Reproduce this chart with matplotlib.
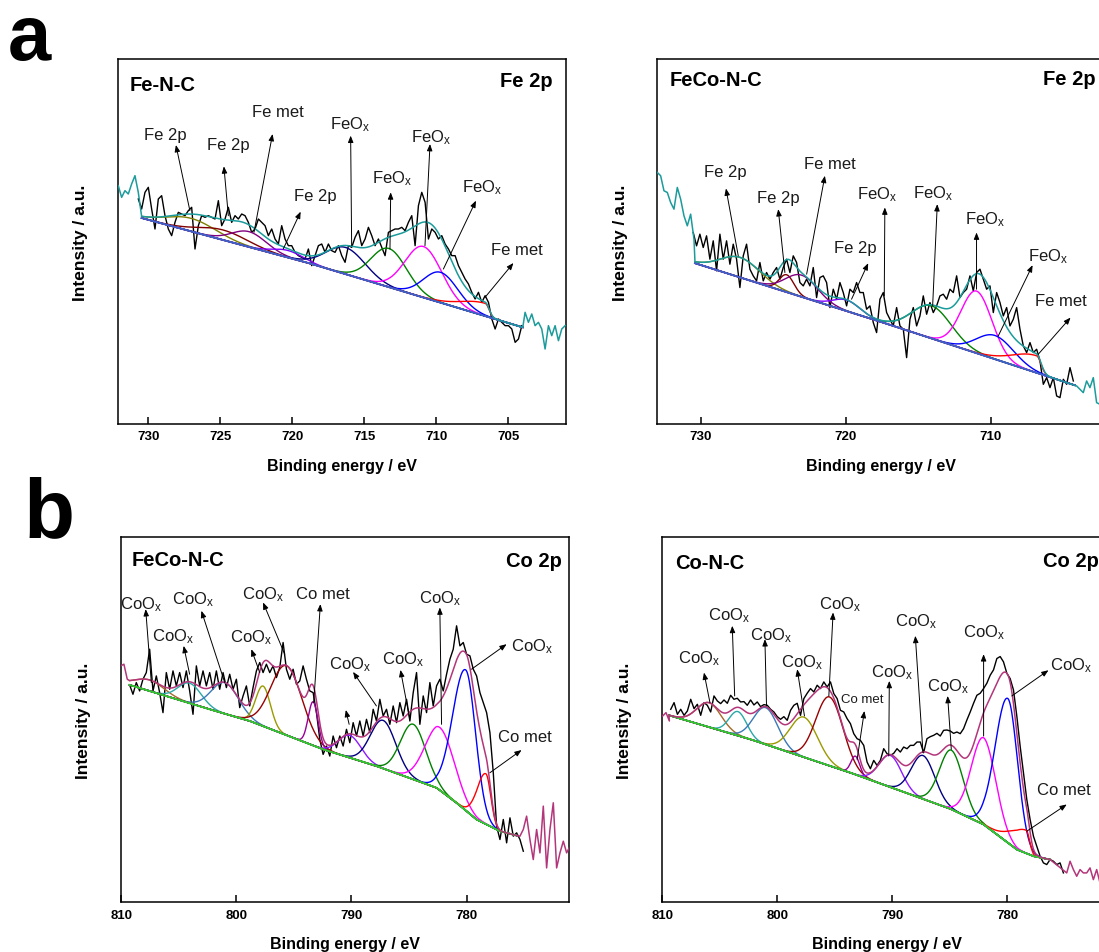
import numpy as np
import matplotlib.pyplot as plt

plt.rcParams['font.family'] = ['Liberation Sans', 'DejaVu Sans']
plt.rcParams['mathtext.fontset'] = 'custom'
plt.rcParams['mathtext.rm'] = 'Liberation Sans'
plt.rcParams['mathtext.it'] = 'Liberation Sans:italic'
plt.rcParams['mathtext.bf'] = 'Liberation Sans:bold'

# ---------------- (a) Fe-N-C, Fe 2p ----------------
fe1_step = 0.2315
fe1_raw_start = 730.69
fe1_raw = [675, 645, 695, 710, 645, 585, 675, 685, 625, 585,
           565, 605, 635, 630, 625, 640, 650, 525, 595, 625,
           620, 625, 620, 615, 670, 595, 615, 650, 605, 625,
           615, 630, 625, 605, 575, 585, 615, 605, 595, 565,
           585, 555, 540, 595, 555, 535, 535, 515, 505, 500,
           495, 525, 475, 505, 535, 540, 515, 540, 520, 515,
           535, 505, 485, 535, 530, 560, 580, 535, 555, 590,
           565, 535, 555, 530, 505, 575, 580, 585, 585, 590,
           580, 605, 625, 535, 655, 695, 665, 555, 585, 575,
           555, 565, 540, 525, 505, 505, 475, 455, 435, 420,
           395, 375, 395, 365, 385, 365, 315, 285, 315, 305,
           295, 295, 285, 245, 255, 295]
fe1_left_start = 732.08
fe1_left = [715, 680, 700, 690, 720, 745, 695]
fe1_right_start = 703.84
fe1_right = [335, 305, 330, 295, 305, 285, 225, 295, 265, 295, 250, 285, 295]
fe1_bg_e = [730.46, 718.8, 704.0]
fe1_bg_i = [618, 482, 290]
fe1_center = [727.0, 724.8, 723.0, 720.3, 716.3, 713.3, 710.9, 709.7, 706.6]
fe1_height = [39, 30, 46, 21, 80, 116, 153, 91, 38]
fe1_hw_hi = [2.0, 2.0, 1.4, 1.25, 1.6, 1.45, 1.5, 1.4, 1.9]
fe1_hw_lo = [2.0, 2.0, 1.4, 1.25, 1.6, 1.45, 1.5, 1.4, 0.3]

# ---------------- (a) FeCo-N-C, Fe 2p ----------------
fe2_step = 0.2302
fe2_raw_start = 730.53
fe2_raw = [574, 534, 569, 529, 564, 494, 549, 459, 569, 494,
           549, 479, 539, 494, 409, 504, 539, 464, 444, 429,
           484, 429, 454, 434, 454, 469, 434, 469, 494, 454,
           504, 484, 424, 414, 434, 414, 469, 379, 439, 444,
           424, 349, 404, 374, 424, 394, 354, 404, 394, 424,
           394, 394, 344, 354, 304, 274, 374, 394, 334, 314,
           294, 349, 294, 284, 199, 314, 349, 294, 324, 384,
           329, 364, 334, 354, 384, 389, 374, 404, 394, 444,
           379, 394, 404, 444, 399, 454, 464, 434, 404, 414,
           334, 394, 364, 324, 349, 294, 314, 349, 284, 234,
           214, 244, 214, 224, 189, 119, 139, 109, 139, 84,
           79, 134, 119, 169, 129]
fe2_left_start = 733.01
fe2_left = [754, 744, 699, 694, 664, 644, 709, 674, 624, 594, 629, 554]
fe2_right_start = 704.06
fe2_right = [114, 104, 94, 129, 109, 139, 64, 59, 64, 74]
fe2_bg_e = [730.41, 717.64, 704.18]
fe2_bg_i = [482, 307, 116]
fe2_center = [727.3, 724.08, 723.05, 719.94, 714.07, 710.97, 709.7, 706.82]
fe2_height = [60, 52, 65, 33, 98, 186, 71, 51]
fe2_hw_hi = [1.6, 0.6, 1.3, 1.1, 1.6, 1.25, 1.5, 1.9]
fe2_hw_lo = [1.6, 0.6, 1.3, 1.1, 1.6, 1.25, 1.5, 0.35]

# ---------------- (b) FeCo-N-C, Co 2p ----------------
co1_step = 0.2899
co1_raw_start = 809.275
co1_raw = [651, 623, 658, 633, 668, 688, 758, 633, 678, 628,
           568, 688, 638, 693, 648, 688, 643, 693, 633, 563,
           708, 648, 693, 648, 688, 638, 693, 638, 688, 643,
           683, 638, 668, 583, 618, 648, 588, 643, 693, 718,
           688, 713, 688, 708, 673, 703, 778, 698, 668, 698,
           653, 663, 708, 668, 633, 628, 568, 488, 443, 468,
           438, 498, 463, 498, 468, 518, 478, 538, 498, 543,
           498, 548, 508, 578, 543, 608, 558, 578, 533, 588,
           538, 598, 558, 608, 543, 628, 688, 533, 618, 568,
           658, 588, 648, 668, 633, 683, 728, 758, 828, 768,
           778, 743, 738, 698, 678, 628, 598, 568, 508, 388,
           228, 188, 248, 178, 253, 198, 208, 188, 153]
co1_left_start = 810.06
co1_left = [708, 713, 668]
co1_right_start = 775.36
co1_right = [198, 218, 258, 188, 128, 218, 148, 288, 103, 218, 298, 103, 148, 183, 148, 168]
co1_bg_e = [809.28, 802.32, 798.84, 792.46, 787.83, 782.61, 780.87, 779.13, 777.10, 775.65]
co1_bg_i = [651, 578, 543, 458, 408, 343, 298, 248, 213, 200]
co1_center = [807.54, 804.06, 801.0, 797.68, 795.65, 793.33, 790.14, 787.25, 784.64, 782.32, 780.06, 778.32]
co1_height = [33, 60, 93, 120, 208, 131, 67, 144, 165, 188, 421, 151]
co1_hw_hi = [1.5, 1.2, 1.4, 0.75, 1.6, 0.5, 1.15, 1.3, 1.3, 1.5, 1.35, 0.9]
co1_hw_lo = [1.5, 1.2, 1.4, 0.75, 1.6, 0.5, 1.15, 1.3, 1.3, 1.5, 1.0, 0.5]

# ---------------- (b) Co-N-C, Co 2p ----------------
co2_step = 0.2894
co2_raw_start = 809.26
co2_raw = [578, 598, 563, 578, 560, 573, 608, 580, 593, 560,
           598, 590, 570, 618, 603, 595, 606, 596, 620, 608,
           611, 600, 601, 590, 606, 591, 600, 586, 592, 590,
           578, 570, 556, 548, 556, 545, 575, 590, 596, 560,
           610, 626, 640, 630, 650, 640, 660, 645, 660, 625,
           610, 575, 570, 550, 535, 505, 490, 485, 470, 420,
           400, 425, 410, 425, 460, 445, 440, 446, 460, 450,
           465, 460, 470, 470, 480, 480, 448, 490, 496, 500,
           506, 498, 515, 516, 513, 506, 510, 505, 520, 546,
           570, 596, 620, 626, 640, 656, 680, 696, 730, 736,
           720, 686, 670, 636, 558, 468, 388, 308, 248, 198,
           168, 138, 118, 113, 128, 123, 113, 118, 88]
co2_left_start = 809.96
co2_left = [558, 568, 543]
co2_right_start = 774.82
co2_right = [88, 123, 98, 78, 98, 88, 88, 103, 68, 98, 58, 88, 78, 98]
co2_bg_e = [809.41, 802.32, 793.63, 784.95, 782.05, 779.16, 777.71, 776.27]
co2_bg_i = [560, 488, 388, 280, 233, 158, 138, 128]
co2_center = [805.93, 803.42, 801.01, 797.68, 795.46, 793.2, 790.16, 787.32, 784.86, 782.05, 779.94, 778.35]
co2_height = [73, 72, 110, 120, 206, 55, 95, 130, 177, 260, 432, 69]
co2_hw_hi = [1.25, 0.9, 1.25, 1.4, 1.4, 0.45, 1.15, 1.2, 1.2, 1.25, 1.3, 1.6]
co2_hw_lo = [1.25, 0.9, 1.25, 1.4, 1.4, 0.45, 1.15, 1.2, 1.2, 1.25, 1.0, 0.35]

# peak labels
FEOX = r'FeO$_\mathregular{x}$'
COOX = r'CoO$_\mathregular{x}$'
fe1_labels = ['Fe 2p', 'Fe 2p', 'Fe met', 'Fe 2p', FEOX, FEOX, FEOX, FEOX, 'Fe met']
fe2_labels = ['Fe 2p', 'Fe 2p', 'Fe met', 'Fe 2p', FEOX, FEOX, FEOX, FEOX, 'Fe met']
co1_labels = [COOX, COOX, COOX, COOX, COOX, 'Co met', COOX, COOX, COOX, COOX, 'Co met', '']
co2_labels = [COOX, COOX, COOX, COOX, COOX, 'Co met', COOX, COOX, COOX, COOX, COOX, 'Co met']

# ---------------- layout (arrow tail, arrow head, text centre) ----------------
fe1_arrows = [(727.11, 640, 728.08, 837, 728.84, 870), (724.44, 625, 724.75, 773, 724.44, 840),
              (722.66, 575, 721.37, 870, 720.97, 937), (720.63, 525, 719.42, 637, 718.43, 687),
              (715.88, 535, 715.95, 865, 716.0, 902), (713.22, 525, 713.17, 695, 713.10, 740),
              (710.79, 535, 710.44, 840, 710.39, 862), (709.51, 465, 707.25, 670, 706.85, 712),
              (706.62, 380, 704.65, 483, 704.38, 525)]
fe2_arrows = [(727.42, 504, 728.27, 706, 728.34, 756), (724.20, 454, 724.66, 644, 724.66, 679),
              (722.70, 449, 721.44, 744, 721.09, 782), (719.60, 374, 718.45, 482, 719.32, 529),
              (717.34, 384, 717.30, 649, 717.87, 689), (714.0, 354, 713.68, 659, 714.0, 694),
              (710.97, 404, 710.97, 574, 710.39, 616), (709.47, 264, 707.10, 476, 706.02, 506),
              (706.71, 209, 704.48, 319, 705.17, 369)]
co1_arrows = [(807.39, 658, 807.88, 878, 808.26, 895), (804.06, 683, 804.58, 768, 805.51, 800),
              (801.01, 658, 803.04, 873, 803.77, 910), (797.97, 688, 798.70, 758, 798.70, 795),
              (795.80, 743, 797.68, 898, 797.68, 923), (793.28, 598, 792.70, 893, 792.46, 925),
              (787.83, 588, 789.86, 690, 790.14, 715), (784.93, 548, 785.74, 696, 785.51, 730),
              (782.17, 533, 782.32, 883, 782.32, 913), (779.57, 698, 776.52, 773, 774.35, 770),
              (777.97, 388, 775.22, 456, 774.93, 498), (790.20, 533, 790.49, 576, 790.49, 576)]
co2_arrows = [(805.85, 598, 806.37, 688, 806.80, 733), (803.70, 618, 803.91, 828, 804.20, 860),
              (800.93, 588, 801.07, 788, 800.58, 803), (797.63, 558, 798.26, 698, 797.83, 720),
              (795.51, 618, 795.14, 868, 794.50, 895), (793.05, 428, 792.42, 573, 792.62, 608),
              (790.30, 438, 790.25, 663, 790.01, 690), (787.32, 448, 787.99, 798, 787.90, 843),
              (784.86, 458, 785.18, 618, 785.15, 648), (782.05, 498, 782.05, 743, 782.05, 810),
              (779.59, 618, 776.41, 695, 774.47, 713), (778.29, 213, 774.82, 293, 775.05, 338)]

fe1_colors = ['#808000', '#800000', '#800080', '#8000ff', '#000080', '#008000', '#ff00ff', '#0000ff', '#ff0000']
fe2_colors = ['#808000', '#800000', '#800080', '#8000ff', '#008000', '#ff00ff', '#0000ff', '#ff0000']
co_colors = ['#a86a2a', '#2aa7a7', '#3a78b8', '#9a9a00', '#990000', '#990099', '#8c1aff',
             '#000080', '#008000', '#ff00ff', '#0000ff', '#ff0000']


def peak(e, c, h, w_hi, w_lo):
    w = np.where(e >= c, w_hi, w_lo)
    return h * np.exp(-np.log(2) * ((e - c) / w) ** 2)


def draw_panel(ax, step, raw_start, raw, left_start, left, right_start, right,
               bg_e, bg_i, centers, heights, hw_hi, hw_lo, colors, env_color, bg_color):
    e_raw = raw_start - step * np.arange(len(raw))
    e_fit = np.linspace(bg_e[0], bg_e[-1], 500)
    bg = np.interp(e_fit, bg_e[::-1], bg_i[::-1])
    ax.plot(e_raw, raw, color='black', lw=1.0, zorder=2)
    total = bg.copy()
    for c, h, wh, wl, col in zip(centers, heights, hw_hi, hw_lo, colors):
        p = peak(e_fit, c, h, wh, wl)
        total += p
        ax.plot(e_fit, bg + p, color=col, lw=1.0, zorder=3)
    ax.plot(bg_e, bg_i, color=bg_color, lw=1.4, zorder=4)
    e_left = left_start - step * np.arange(len(left))
    e_right = right_start - step * np.arange(len(right))
    ax.plot(np.r_[e_left, e_fit, e_right], np.r_[left, total, right],
            color=env_color, lw=1.1, zorder=5)


def annotate_panel(ax, labels, arrows, small=()):
    for k, (lab, (tx, ty, hx, hy, lx, ly)) in enumerate(zip(labels, arrows)):
        ax.annotate('', xy=(hx, hy), xytext=(tx, ty),
                    arrowprops=dict(arrowstyle='-|>,head_length=0.4,head_width=0.16',
                                    color='black', lw=0.7, mutation_scale=10,
                                    shrinkA=0, shrinkB=0), zorder=6)
        if lab:
            ax.text(lx, ly, lab, ha='center', va='center', zorder=7,
                    fontsize=9.5 if k in small else 12, color='#1a1a1a')


def style_axes(ax, xlim, ylim, ticks, name, core, name_y, core_x, core_y):
    ax.set_xlim(*xlim)
    ax.set_ylim(*ylim)
    ax.set_yticks([])
    ax.set_xticks(ticks)
    ax.set_xticklabels([str(t) for t in ticks], fontweight='bold', fontsize=9.5)
    ax.tick_params(axis='x', direction='in', length=5, width=1.1, pad=4.5)
    for s in ax.spines.values():
        s.set_linewidth(1.1)
    ax.set_xlabel('Binding energy / eV', fontweight='bold', fontsize=11.5)
    ax.xaxis.set_label_coords(0.5, -0.093)
    ax.set_ylabel('Intensity / a.u.', fontweight='bold', fontsize=12.5)
    ax.yaxis.set_label_coords(-0.066, 0.5)
    ax.text(name[0], name_y, name[1], transform=ax.transAxes, fontsize=14.5,
            fontweight='bold', va='baseline', ha='left')
    ax.text(core_x, core_y, core, transform=ax.transAxes, fontsize=14.5,
            fontweight='bold', va='baseline', ha='right')


fig = plt.figure(figsize=(10.99, 9.53), dpi=100)

ax1 = fig.add_axes([0.10737, 0.55404, 0.40764, 0.38300])
draw_panel(ax1, fe1_step, fe1_raw_start, fe1_raw, fe1_left_start, fe1_left, fe1_right_start,
           fe1_right, fe1_bg_e, fe1_bg_i, fe1_center, fe1_height, fe1_hw_hi, fe1_hw_lo,
           fe1_colors, '#1b9b9b', '#3c64c8')
annotate_panel(ax1, fe1_labels, fe1_arrows)
style_axes(ax1, (732.1, 701.0), (0, 1095), [730, 725, 720, 715, 710, 705],
           (0.025, 'Fe-N-C'), 'Fe 2p', 0.916, 0.970, 0.927)

ax2 = fig.add_axes([0.59809, 0.55404, 0.40764, 0.38300])
draw_panel(ax2, fe2_step, fe2_raw_start, fe2_raw, fe2_left_start, fe2_left, fe2_right_start,
           fe2_right, fe2_bg_e, fe2_bg_i, fe2_center, fe2_height, fe2_hw_hi, fe2_hw_lo,
           fe2_colors, '#1b9b9b', '#3c64c8')
annotate_panel(ax2, fe2_labels, fe2_arrows)
style_axes(ax2, (733.01, 702.08), (0, 1094), [730, 720, 710],
           (0.028, 'FeCo-N-C'), 'Fe 2p', 0.929, 0.979, 0.932)

ax3 = fig.add_axes([0.10983, 0.05215, 0.40819, 0.38332])
draw_panel(ax3, co1_step, co1_raw_start, co1_raw, co1_left_start, co1_left, co1_right_start,
           co1_right, co1_bg_e, co1_bg_i, co1_center, co1_height, co1_hw_hi, co1_hw_lo,
           co_colors, '#b3367a', '#2ecc2e')
annotate_panel(ax3, co1_labels, co1_arrows)
style_axes(ax3, (810.05, 771.07), (0, 1094), [810, 800, 790, 780],
           (0.0245, 'FeCo-N-C'), 'Co 2p', 0.923, 0.983, 0.921)

ax4 = fig.add_axes([0.60237, 0.05215, 0.40855, 0.38332])
draw_panel(ax4, co2_step, co2_raw_start, co2_raw, co2_left_start, co2_left, co2_right_start,
           co2_right, co2_bg_e, co2_bg_i, co2_center, co2_height, co2_hw_hi, co2_hw_lo,
           co_colors, '#b3367a', '#2ecc2e')
annotate_panel(ax4, co2_labels, co2_arrows, small=(5,))
style_axes(ax4, (810.02, 770.97), (0, 1094), [810, 800, 790, 780],
           (0.029, 'Co-N-C'), 'Co 2p', 0.914, 0.973, 0.920)

fig.text(0.007, 0.937, 'a', fontsize=56, fontweight='bold', va='baseline', ha='left')
fig.text(0.021, 0.4365, 'b', fontsize=60, fontweight='bold', va='baseline', ha='left')

fig.savefig('out.png', dpi=100)
